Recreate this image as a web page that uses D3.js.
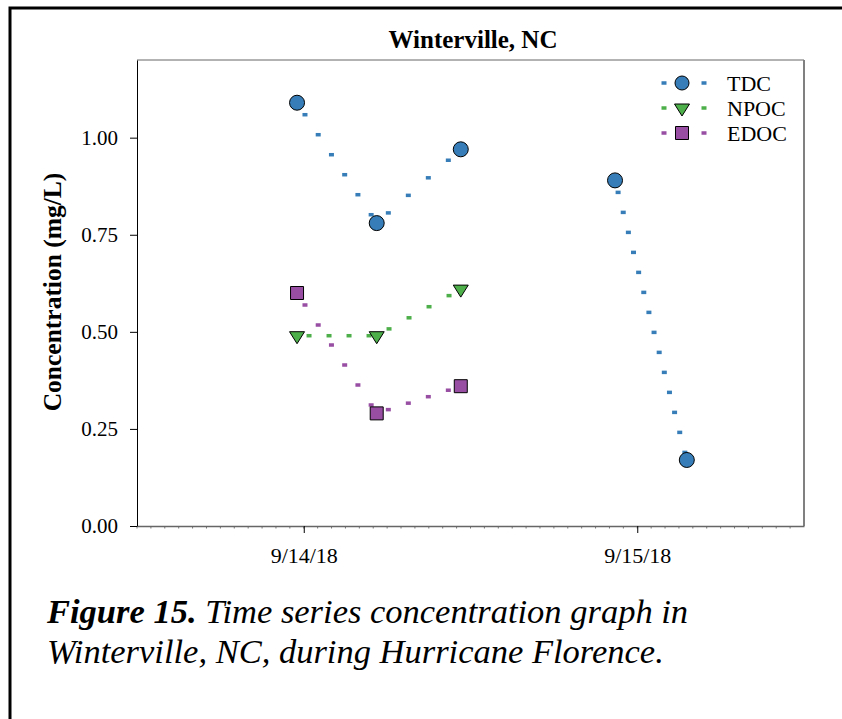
<!DOCTYPE html>
<html lang="en">
<head>
<meta charset="UTF-8" />
<script src="https://d3js.org/d3.v7.min.js"></script>
<style>
  body { margin: 0; background: #fff; }
</style>
</head>
<body>
<svg id="chart" width="842" height="719"></svg>
<script>
// sampling times
const sampleTimes = ["2018-09-13T23:31", "2018-09-14T05:15", "2018-09-14T11:18", "2018-09-14T22:24", "2018-09-15T03:34"];

// concentrations (mg/L)
const tdcValues = [1.09, 0.78, 0.97, 0.89, 0.17];
const tdcRuns = [0, 0, 0, 1, 1]; // no line between 3rd and 4th sample
const npocValues = [0.49, 0.49, 0.61];
const edocValues = [0.60, 0.29, 0.36];

const seriesNames = ["TDC", "NPOC", "EDOC"];
const seriesColors = ["#377eb8", "#4daf4a", "#984ea3"];
const seriesSymbols = ["circle", "triangle", "square"];

const yTicks = [0, 0.25, 0.5, 0.75, 1.0];
const xDomain = ["2018-09-13T12:00", "2018-09-15T12:00"];

const FONT = "'Liberation Serif', 'DejaVu Serif', serif";

const parse = d3.timeParse("%Y-%m-%dT%H:%M");

const svg = d3.select("#chart").style("font-family", FONT);
const margin = { left: 137, right: 804, top: 60, bottom: 526 };

const x = d3.scaleTime().domain(xDomain.map(parse)).range([margin.left, margin.right]);
const y = d3.scaleLinear().domain([0, 1.2]).range([margin.bottom, margin.top]);

// outer figure frame
svg.append("rect")
  .attr("x", 10).attr("y", 8)
  .attr("width", 900).attr("height", 800)
  .attr("fill", "none").attr("stroke", "#000").attr("stroke-width", 3);

// title
svg.append("text")
  .attr("x", 473).attr("y", 48)
  .attr("text-anchor", "middle")
  .style("font-family", FONT)
  .style("font-size", "25px").style("font-weight", "bold")
  .text("Winterville, NC");

// plot frame (top / right in grey)
svg.append("line")
  .attr("x1", margin.left).attr("x2", margin.right)
  .attr("y1", margin.top).attr("y2", margin.top)
  .attr("stroke", "#666").attr("stroke-width", 1);
svg.append("line")
  .attr("x1", margin.right).attr("x2", margin.right)
  .attr("y1", margin.top).attr("y2", margin.bottom)
  .attr("stroke", "#808080").attr("stroke-width", 2);

// hourly minor ticks on x
const minor = d3.timeHour.range(x.domain()[0], x.domain()[1]);
svg.append("g")
  .selectAll("line")
  .data(minor)
  .join("line")
  .attr("x1", d => x(d)).attr("x2", d => x(d))
  .attr("y1", margin.bottom).attr("y2", margin.bottom + 2.5)
  .attr("stroke", "#777").attr("stroke-width", 1);

// x axis
const xAxis = svg.append("g")
  .attr("transform", `translate(0,${margin.bottom})`)
  .call(d3.axisBottom(x).ticks(d3.timeDay.every(1)).tickFormat(d3.timeFormat("%-m/%-d/%y")).tickSize(7).tickPadding(14).tickSizeOuter(0));
xAxis.attr("font-family", null).attr("font-size", null);
xAxis.select(".domain").attr("stroke", "#666").attr("stroke-width", 1.5);
xAxis.selectAll(".tick line").attr("stroke", "#000");
xAxis.selectAll(".tick text").style("font-family", FONT).style("font-size", "22px").attr("fill", "#000");

// y axis
const yAxis = svg.append("g")
  .attr("transform", `translate(${margin.left},0)`)
  .call(d3.axisLeft(y).tickValues(yTicks).tickFormat(d3.format(".2f")).tickSize(7).tickPadding(12).tickSizeOuter(0));
yAxis.attr("font-family", null).attr("font-size", null);
yAxis.select(".domain").attr("stroke", "#000");
yAxis.selectAll(".tick text").style("font-family", FONT).style("font-size", "21px").attr("fill", "#000");

svg.append("text")
  .attr("transform", `translate(61,292) rotate(-90)`)
  .attr("text-anchor", "middle")
  .style("font-family", FONT)
  .style("font-size", "25.5px").style("font-weight", "bold")
  .text("Concentration (mg/L)");

// symbol shapes
function symbolPath(kind) {
  if (kind === "circle") return d3.symbol(d3.symbolCircle, Math.PI * 7.5 * 7.5)();
  if (kind === "square") return "M-6.5,-6.5H6.5V6.5H-6.5Z";
  return "M-7.5,-4H7.5L0,8Z"; // downward triangle, centroid at 0
}

// dotted connector, dots spaced like the original (pixel steps)
function dotsAlong(pts, start, step) {
  const out = [];
  let next = start, acc = 0;
  for (let i = 1; i < pts.length; i++) {
    const [x0, y0] = pts[i - 1], [x1, y1] = pts[i];
    const len = Math.max(Math.abs(x1 - x0), Math.abs(y1 - y0));
    while (next <= acc + len) {
      const t = (next - acc) / len;
      out.push([x0 + t * (x1 - x0), y0 + t * (y1 - y0)]);
      next += step;
    }
    acc += len;
  }
  return out;
}

const series = [
  { values: tdcValues, runs: tdcRuns },
  { values: npocValues, runs: npocValues.map(() => 0) },
  { values: edocValues, runs: edocValues.map(() => 0) }
].map((s, i) => ({
  name: seriesNames[i],
  color: seriesColors[i],
  symbol: seriesSymbols[i],
  points: s.values.map((v, j) => ({ t: parse(sampleTimes[j]), v, run: s.runs[j] }))
}));

const dotLayer = svg.append("g");
const markLayer = svg.append("g");

series.forEach(s => {
  const runs = d3.groups(s.points, d => d.run);
  runs.forEach(([, pts]) => {
    const xy = pts.map(d => [x(d.t), y(d.v)]);
    dotLayer.selectAll(null)
      .data(dotsAlong(xy, 12, 20))
      .join("rect")
      .attr("x", d => d[0] - 2.5).attr("y", d => d[1] - 1.75)
      .attr("width", 5).attr("height", 3.5)
      .attr("fill", s.color);
  });
  markLayer.selectAll(null)
    .data(s.points)
    .join("path")
    .attr("transform", d => `translate(${x(d.t)},${y(d.v)})`)
    .attr("d", symbolPath(s.symbol))
    .attr("fill", s.color)
    .attr("stroke", "#000").attr("stroke-width", 1);
});

// legend
const legend = svg.append("g").attr("transform", "translate(682,83)");
const rows = legend.selectAll("g")
  .data(series)
  .join("g")
  .attr("transform", (d, i) => `translate(0,${i * 25})`);
rows.selectAll("rect")
  .data(d => [-18, 22].map(dx => ({ dx, color: d.color })))
  .join("rect")
  .attr("x", d => d.dx - 2.5).attr("y", -1.75)
  .attr("width", 5).attr("height", 3.5)
  .attr("fill", d => d.color);
rows.append("path")
  .attr("d", d => d.symbol === "circle" ? d3.symbol(d3.symbolCircle, Math.PI * 7 * 7)() : symbolPath(d.symbol))
  .attr("fill", d => d.color)
  .attr("stroke", "#000").attr("stroke-width", 1);
rows.append("text")
  .attr("x", 45).attr("dy", "0.35em")
  .style("font-family", FONT)
  .style("font-size", "22px")
  .text(d => d.name);

// caption
const cap = svg.append("text")
  .attr("x", 47).attr("y", 623)
  .style("font-family", FONT)
  .style("font-size", "34.5px").style("font-style", "italic");
cap.append("tspan").style("font-weight", "bold").text("Figure 15.");
cap.append("tspan").text(" Time series concentration graph in");
svg.append("text")
  .attr("x", 47).attr("y", 663)
  .style("font-family", FONT)
  .style("font-size", "34.5px").style("font-style", "italic")
  .text("Winterville, NC, during Hurricane Florence.");
</script>
</body>
</html>
